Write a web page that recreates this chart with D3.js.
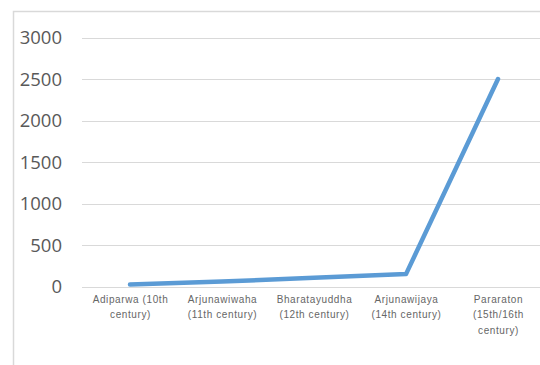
<!DOCTYPE html>
<html>
<head>
<meta charset="utf-8">
<script src="https://cdn.jsdelivr.net/npm/d3@7"></script>
<style>
  html, body { margin: 0; padding: 0; background: #fff; }
  svg { display: block; }
</style>
</head>
<body>
<svg id="chart" width="540" height="365"></svg>
<script>
const categories = [
  "Adiparwa (10th century)",
  "Arjunawiwaha (11th century)",
  "Bharatayuddha (12th century)",
  "Arjunawijaya (14th century)",
  "Pararaton (15th/16th century)"
];
const categoryLines = [
  ["Adiparwa (10th", "century)"],
  ["Arjunawiwaha", "(11th century)"],
  ["Bharatayuddha", "(12th century)"],
  ["Arjunawijaya", "(14th century)"],
  ["Pararaton", "(15th/16th", "century)"]
];
const values = [30, 65, 110, 155, 2500];
const yTicks = [0, 500, 1000, 1500, 2000, 2500, 3000];

const svg = d3.select("#chart");

// chart border (cropped frame)
svg.append("rect")
  .attr("x", 13.5).attr("y", 11.5)
  .attr("width", 600).attr("height", 360)
  .attr("fill", "#fff")
  .attr("stroke", "#d9d9d9")
  .attr("stroke-width", 1.5);

const x = d3.scalePoint().domain(categories).range([84, 544]).padding(0.5);
const y = d3.scaleLinear().domain([0, 3000]).range([287, 37.5]);

// gridlines
svg.append("g")
  .selectAll("line")
  .data(yTicks)
  .join("line")
  .attr("x1", 82).attr("x2", 560)
  .attr("y1", d => Math.round(y(d)) + 0.5)
  .attr("y2", d => Math.round(y(d)) + 0.5)
  .attr("stroke", "#d9d9d9")
  .attr("stroke-width", 1);

// y axis labels
const yAxis = d3.axisLeft(y).tickValues(yTicks).tickFormat(d3.format("d")).tickSize(0).tickPadding(0);
const gy = svg.append("g").attr("transform", "translate(62,0)").call(yAxis);
gy.select(".domain").remove();
gy.selectAll("text")
  .attr("fill", "#595959")
  .attr("font-family", "'Open Sans', sans-serif")
  .attr("font-size", "18.5px");

// x axis labels
const xAxis = d3.axisBottom(x).tickSize(0).tickFormat("");
const gx = svg.append("g").attr("transform", "translate(0,287)").call(xAxis);
gx.select(".domain").remove();
gx.selectAll(".tick").each(function(d, i) {
  const t = d3.select(this).append("text")
    .attr("text-anchor", "middle")
    .attr("fill", "#666666")
    .attr("font-family", "'Liberation Sans', Arial, sans-serif")
    .attr("font-size", "10px")
    .attr("letter-spacing", "0.6px")
    .attr("y", 16);
  categoryLines[i].forEach((ln, j) => {
    t.append("tspan").attr("x", 0).attr("dy", j === 0 ? 0 : 15.3).text(ln);
  });
});

// line
const line = d3.line()
  .x((d, i) => x(categories[i]))
  .y(d => y(d));
svg.append("path")
  .datum(values)
  .attr("d", line)
  .attr("fill", "none")
  .attr("stroke", "#5B9BD5")
  .attr("stroke-width", 4.5)
  .attr("stroke-linecap", "round")
  .attr("stroke-linejoin", "round");
</script>
</body>
</html>
